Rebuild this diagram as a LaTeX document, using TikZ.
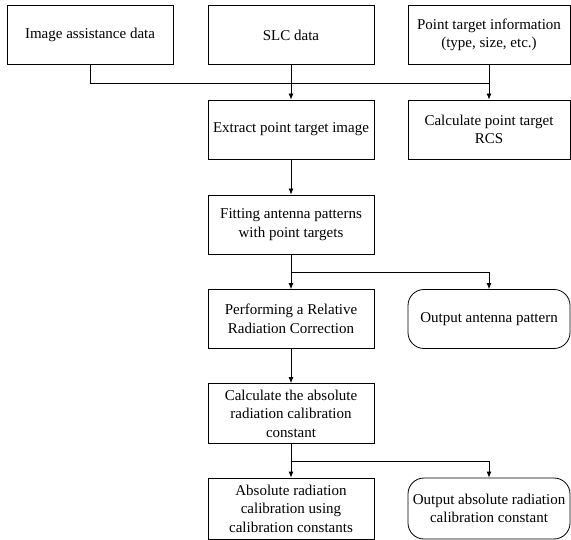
\documentclass[tikz,border=0pt]{standalone}
\usepackage{fontspec}
\setmainfont{Liberation Serif}
\usetikzlibrary{arrows.meta}

\tikzset{
	stepbox/.style={draw, line width=0.8pt, align=center, minimum width=166pt, minimum height=59pt, inner sep=0pt, font=\fontsize{15}{18.5}\selectfont},
	outbox/.style={stepbox, minimum width=162pt, rounded corners=16pt},
	infobox/.style={stepbox, minimum width=162pt},
	link/.style={line width=0.8pt, -{Latex[length=6pt,width=5pt]}}
}

\begin{document}
\begin{tikzpicture}[x=1pt, y=-1pt]
			\useasboundingbox (0,0) rectangle (571,540);

			\node[stepbox] (img) at (90,35) {Image assistance data};
			\node[stepbox] (slc) at (291,35) {SLC data};
			\node[infobox] (info) at (489,35) {Point target information\\(type, size, etc.)};

			\node[stepbox] (extract) at (291,129.5) {Extract point target image};
			\node[infobox] (rcs) at (489,129.5) {Calculate point target\\RCS};

			\node[stepbox] (fit) at (291,224.5) {Fitting antenna patterns\\with point targets};
			\node[stepbox] (perf) at (291,319) {Performing a Relative\\Radiation Correction};
			\node[outbox] (outant) at (489,319) {Output antenna pattern};

			\node[stepbox, minimum height=60pt] (calc) at (291,413.5) {Calculate the absolute\\radiation calibration\\constant};
			\node[stepbox, minimum height=61pt] (abs) at (291,508.5) {Absolute radiation\\calibration using\\calibration constants};
			\node[outbox, minimum height=61pt] (outabs) at (489,508.5) {Output absolute radiation\\calibration constant};

			\coordinate (bus) at (489,83);
			\coordinate (fork1) at (291,272);
			\coordinate (fork2) at (291,461);

			\draw[line width=0.8pt] (img.south) |- (bus);
			\draw[link] (slc.south) -- (extract.north);
			\draw[link] (info.south) -- (rcs.north);
			\draw[link] (extract.south) -- (fit.north);
			\draw[link] (fit.south) -- (perf.north);
			\draw[link] (fork1) -| (outant.north);
			\draw[link] (perf.south) -- (calc.north);
			\draw[link] (calc.south) -- (abs.north);
			\draw[link] (fork2) -| (outabs.north);
		\end{tikzpicture}
\end{document}
